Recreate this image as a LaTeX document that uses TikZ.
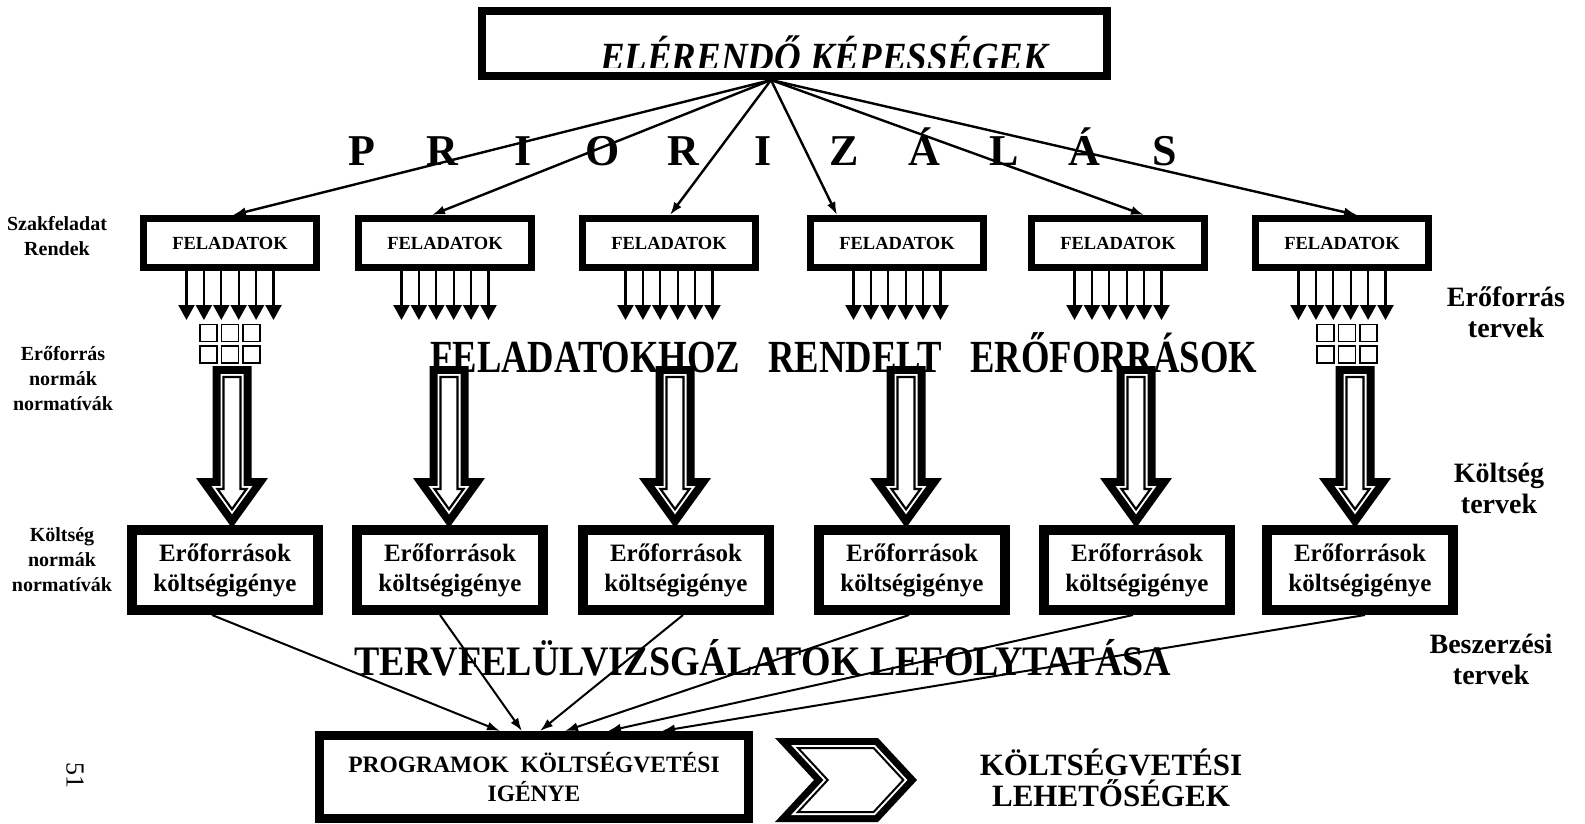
\documentclass[tikz,border=0pt]{standalone}
\usepackage{fontspec}
\setmainfont{Liberation Serif}
\usepackage{graphicx}
\usetikzlibrary{arrows.meta,calc}

\tikzset{
  feltask/.style={draw, line width=7pt, minimum width=173pt, minimum height=49pt,
    inner sep=0pt, font=\bfseries\fontsize{18.5}{22}\selectfont},
  costbox/.style={draw, line width=10pt, minimum width=186pt, minimum height=80pt,
    inner sep=0pt, align=center, font=\bfseries\fontsize{25}{30}\selectfont},
  sidelbl/.style={align=center, inner sep=0pt, font=\bfseries\fontsize{20}{25}\selectfont},
  planlbl/.style={align=center, inner sep=0pt, font=\bfseries\fontsize{28}{31}\selectfont},
  bigletter/.style={inner sep=0pt, font=\bfseries\fontsize{44}{48}\selectfont},
  fanarr/.style={line width=2.4pt, -{Latex[length=13pt,width=9pt]}},
  sumarr/.style={line width=2pt, -{Latex[length=13pt,width=9pt]}},
  resarr/.style={line width=2.2pt, -{Triangle[length=15pt,width=16pt]}},
  normsq/.style={draw, line width=1.5pt, minimum size=17pt, inner sep=0pt},
  hollow arrow/.pic={
    \fill[black] (-19.5,0) -- (19.5,0) -- (19.5,112) -- (36,112) -- (0,162)
      -- (-36,112) -- (-19.5,112) -- cycle;
    \fill[white] (-11.5,8) -- (11.5,8) -- (11.5,120) -- (20.4,120) -- (0,148.3)
      -- (-20.4,120) -- (-11.5,120) -- cycle;
    \draw[black, line width=2.2pt, line join=miter] (-8.5,11) -- (8.5,11) -- (8.5,123)
      -- (14.5,123) -- (0,143.2) -- (-14.5,123) -- (-8.5,123) -- cycle;
  }
}

\begin{document}
\begin{tikzpicture}[x=1pt, y=-1pt]
  \fill[white] (0,0) rectangle (1585,824);
  \useasboundingbox (0,0) rectangle (1585,824);

  % goal box with its clipped heading
  \begin{scope}
    \clip (486,15) rectangle (1103,67.5);
    \node[anchor=base west, inner sep=0pt,
      font=\bfseries\itshape\fontsize{40}{44}\selectfont] (goaltxt) at (600,71)
      {\resizebox{448pt}{\height}{ELÉRENDŐ KÉPESSÉGEK}};
  \end{scope}
  \node[draw, line width=8pt, minimum width=625pt, minimum height=65pt,
    inner sep=0pt] (goal) at (794.5,43.5) {};

  % spaced-out heading of the priority fan
  \foreach \ch [count=\n from 0] in {P,R,I,O,R,I,Z,Á,L,Á,S}
    \node[bigletter, anchor=base] (pr\n) at (362+\n*80.3,165) {\ch};

  % task boxes
  \foreach \i/\c in {1/230,2/445,3/669,4/897,5/1118,6/1342}
    \node[feltask] (f\i) at (\c,243) {FELADATOK};

  % priority fan
  \coordinate (hub) at ([xshift=-23.5pt]goal.south);
  \foreach \i/\s in {1/3,2/-13,3/1,4/-60,5/26,6/15}
    \draw[fanarr] (hub) -- ([xshift=\s pt]f\i.north);

  % resource arrows below each task box
  \foreach \i in {1,...,6}
    \foreach \k in {-2.5,-1.5,-0.5,0.5,1.5,2.5}
      \draw[resarr] ([xshift=\k*17.4pt]f\i.south) -- ++(0,49);

  % resource norm grids
  \foreach \g/\c in {a/230,b/1347}
    \foreach \col [count=\cc] in {-1,0,1}
      \foreach \row [count=\rr] in {0,1}
        \node[normsq] (sq\g\cc\rr) at (\c+\col*21.5,333+\row*21.5) {};

  % hollow arrows
  \foreach \i/\c in {1/232,2/449,3/675,4/906,5/1136,6/1355}
    \pic (ha\i) at (\c,366) {hollow arrow};

  \node[anchor=base west, inner sep=0pt,
    font=\bfseries\fontsize{46}{50}\selectfont] (restxt) at (430,372)
    {\resizebox{827pt}{\height}{FELADATOKHOZ\hspace{0.77em}RENDELT\hspace{0.77em}ERŐFORRÁSOK}};

  % cost boxes
  \foreach \i/\c in {1/225,2/450,3/676,4/912,5/1137,6/1360}
    \node[costbox] (r\i) at (\c,570) {Erőforrások\\költségigénye};

  \node[anchor=base west, inner sep=0pt,
    font=\bfseries\fontsize{42}{46}\selectfont] (revtxt) at (354,675)
    {\resizebox{817pt}{\height}{TERVFELÜLVIZSGÁLATOK LEFOLYTATÁSA}};

  % programme budget box
  \node[draw, line width=9pt, minimum width=429pt, minimum height=83pt,
    inner sep=0pt, align=center, font=\bfseries\fontsize{23.5}{29}\selectfont]
    (prog) at (534,777) {PROGRAMOK\hspace{0.5em}KÖLTSÉGVETÉSI\\IGÉNYE};

  \foreach \i/\a/\b in {1/-13/-34,2/-10/-12,3/7/6,4/-3/31,5/-4/74,6/5/128}
    \draw[sumarr] ([xshift=\a pt]r\i.south) -- ([xshift=\b pt]prog.north);

  % chevron towards the budget limits
  \fill[black] (775,738) -- (878,738) -- (917,780) -- (878,822) -- (775,822)
    -- (814,780) -- cycle;
  \fill[white] (791.1,745) -- (874.9,745) -- (907.4,780) -- (874.9,815)
    -- (791.1,815) -- (823.6,780) -- cycle;
  \draw[line width=2pt, line join=miter] (798,748) -- (873.6,748) -- (903.3,780)
    -- (873.6,812) -- (798,812) -- (827.7,780) -- cycle;
  \node[align=center, inner sep=0pt, font=\bfseries\fontsize{31}{31}\selectfont]
    (limits) at (1111,778) {KÖLTSÉGVETÉSI\\LEHETŐSÉGEK};

  % side labels
  \node[sidelbl] (lblrend) at (57,236) {Szakfeladat\\Rendek};
  \node[sidelbl] (lblres) at (63,379) {Erőforrás\\normák\\normatívák};
  \node[sidelbl] (lblcost) at (62,560) {Költség\\normák\\normatívák};
  \node[planlbl] (plres) at (1506,312) {Erőforrás\\tervek};
  \node[planlbl] (plcost) at (1499,488) {Költség\\tervek};
  \node[planlbl] (plbuy) at (1491,659) {Beszerzési\\tervek};

  % page number
  \node[rotate=-90, inner sep=0pt, font=\fontsize{26}{30}\selectfont]
    (pgno) at (75,775) {51};
\end{tikzpicture}
\end{document}
